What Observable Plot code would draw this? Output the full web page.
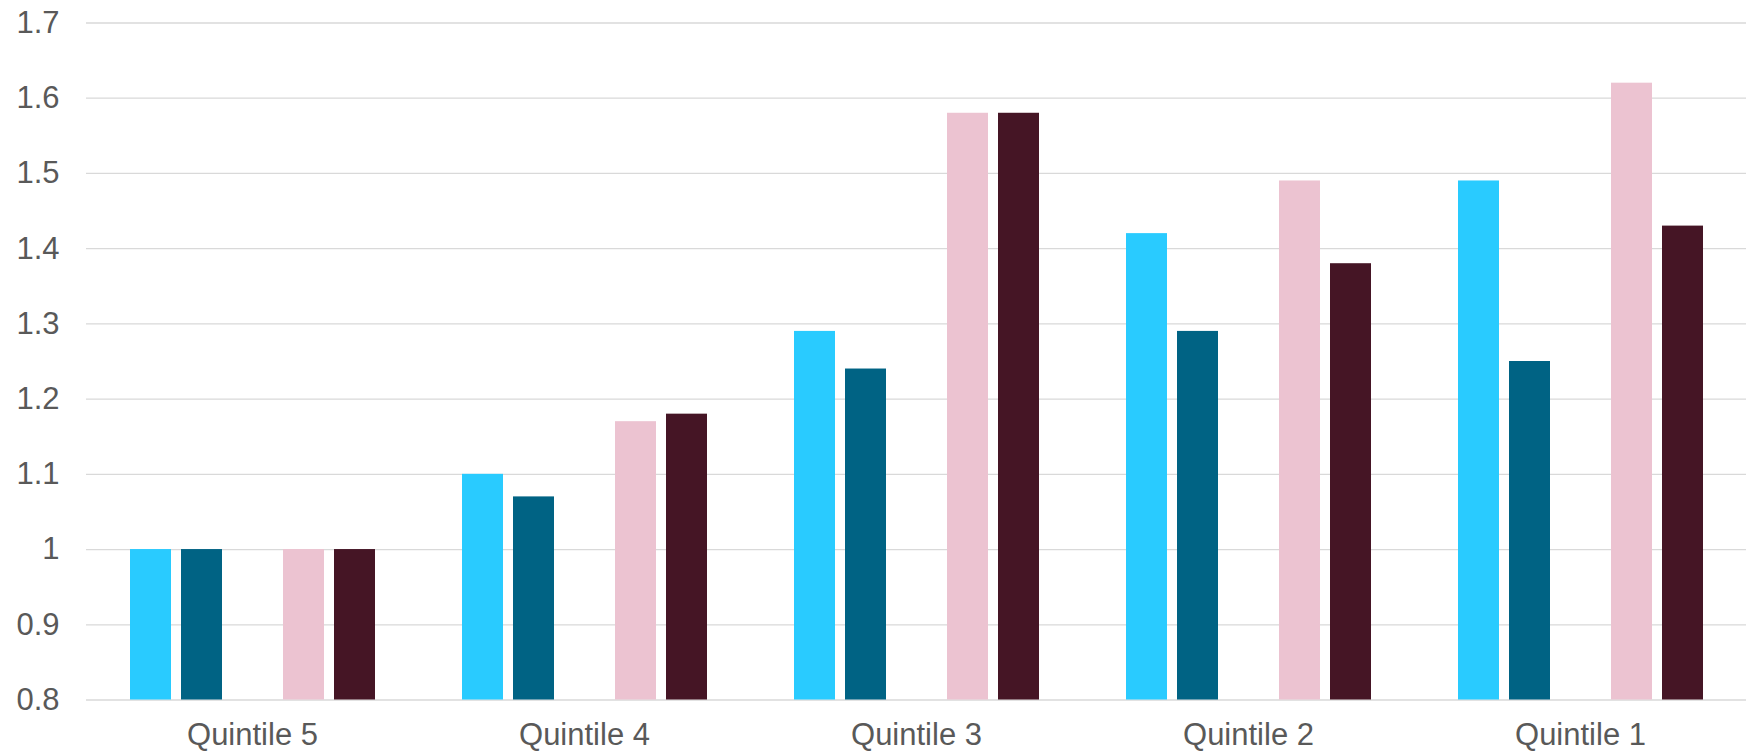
<!DOCTYPE html>
<html>
<head>
<meta charset="utf-8">
<script src="https://cdn.jsdelivr.net/npm/d3@7"></script>
<script src="https://cdn.jsdelivr.net/npm/@observablehq/plot@0.6"></script>
<style>
  html, body { margin: 0; padding: 0; background: #fff; }
  #chart svg { display: block; }
</style>
</head>
<body>
<div id="chart"></div>
<script>
const quintiles = ["Quintile 5", "Quintile 4", "Quintile 3", "Quintile 2", "Quintile 1"];
const seriesNames = ["Series 1", "Series 2", "Series 3", "Series 4", "Series 5"];
const series1 = [1.00, 1.10, 1.29, 1.42, 1.49];
const series2 = [1.00, 1.07, 1.24, 1.29, 1.25];
const series3 = [null, null, null, null, null];
const series4 = [1.00, 1.17, 1.58, 1.49, 1.62];
const series5 = [1.00, 1.18, 1.58, 1.38, 1.43];
const seriesColors = ["#29CBFF", "#006384", "#A6A6A6", "#ECC3D1", "#451525"];
const yDomain = [0.8, 1.7];
const yTicks = [0.8, 0.9, 1.0, 1.1, 1.2, 1.3, 1.4, 1.5, 1.6, 1.7];

const allSeries = [series1, series2, series3, series4, series5];
const rows = [];
quintiles.forEach((q, i) => {
  allSeries.forEach((vals, s) => {
    if (vals[i] != null) rows.push({quintile: q, series: seriesNames[s], value: vals[i]});
  });
});

const chart = Plot.plot({
  width: 1754,
  height: 752,
  marginLeft: 84,
  marginRight: 6,
  marginTop: 22.5,
  marginBottom: 52.5,
  style: {fontFamily: "'Liberation Sans', Arial, sans-serif", fontSize: "31px", color: "#595959", background: "#fff"},
  fx: {domain: quintiles, padding: 0, label: null, axis: "bottom", tickSize: 0, tickPadding: 23},
  x: {domain: seriesNames, paddingInner: 0.205, paddingOuter: 0.8525, axis: null},
  y: {domain: yDomain, ticks: yTicks, tickFormat: d => String(+d.toFixed(1)), tickSize: 0, tickPadding: 27, label: null},
  color: {domain: seriesNames, range: seriesColors},
  marks: [
    Plot.ruleY(yTicks, {stroke: "#d9d9d9", strokeWidth: 1.3}),
    Plot.barY(rows, {fx: "quintile", x: "series", y1: yDomain[0], y2: "value", fill: "series"})
  ]
});
document.getElementById("chart").appendChild(chart);
</script>
</body>
</html>
